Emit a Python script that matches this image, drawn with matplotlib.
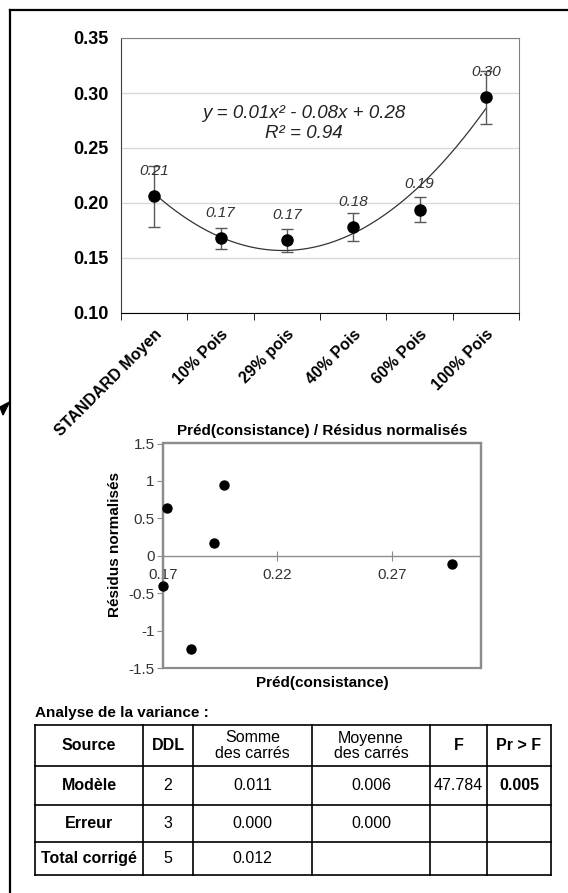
import numpy as np
import matplotlib
matplotlib.use('Agg')
import matplotlib.pyplot as plt
from matplotlib.patches import Rectangle, Polygon

plt.rcParams['font.family'] = ['Liberation Sans', 'DejaVu Sans']

# --- top chart: consistance par formulation
categories = ['STANDARD Moyen', '10% Pois', '29% pois', '40% Pois', '60% Pois', '100% Pois']
consistance = [0.206, 0.168, 0.166, 0.178, 0.194, 0.296]
erreur = [0.028, 0.0095, 0.0105, 0.013, 0.011, 0.024]
equation = 'y = 0.01x² - 0.08x + 0.28'
r2_text = 'R² = 0.94'

# --- residual chart
pred = [0.1718, 0.1966, 0.1921, 0.1700, 0.1824, 0.2962]
residus = [0.64, 0.94, 0.17, -0.40, -1.24, -0.115]

# --- analyse de la variance
anova_cols = ['Source', 'DDL', 'Somme\ndes carrés', 'Moyenne\ndes carrés', 'F', 'Pr > F']
anova_rows = [
    ['Modèle', '2', '0.011', '0.006', '47.784', '0.005'],
    ['Erreur', '3', '0.000', '0.000', '', ''],
    ['Total corrigé', '5', '0.012', '', '', ''],
]

W, H = 568, 893
fig = plt.figure(figsize=(W / 100, H / 100), dpi=100)


def px_axes(left, top, right, bottom):
    # figure axes from pixel box (origin top-left)
    return fig.add_axes([left / W, 1 - bottom / H, (right - left) / W, (bottom - top) / H])


# overlay in pixel coords for frame + table
ov = fig.add_axes([0, 0, 1, 1])
ov.set_xlim(0, W)
ov.set_ylim(H, 0)
ov.axis('off')
ov.plot([10, 10], [10, H], color='black', lw=1.6)
ov.plot([10, W], [10, 10], color='black', lw=1.6)
ov.add_patch(Polygon([(9.5, 402), (0, 407), (3, 415)], closed=True, color='black'))

# ---------------- top chart
ax = px_axes(121, 38, 519, 313)
x = np.arange(len(categories))
ax.set_xlim(-0.5, len(categories) - 0.5)
ax.set_ylim(0.10, 0.35)
ax.set_yticks([0.10, 0.15, 0.20, 0.25, 0.30, 0.35])
ax.set_yticklabels([f'{v:.2f}' for v in ax.get_yticks()], fontweight='bold', fontsize=13)
ax.tick_params(axis='y', length=0, pad=9)
ax.grid(axis='y', color='#d9d9d9', lw=1)
ax.set_axisbelow(True)
for s in ['top', 'right']:
    ax.spines[s].set_color('#808080')
ax.spines['left'].set_color('#404040')
ax.spines['bottom'].set_color('black')

ax.set_xticks(x)
ax.set_xticklabels(categories, rotation=45, ha='right', va='top',
                   rotation_mode='anchor', fontweight='bold', fontsize=11.5)
ax.tick_params(axis='x', which='major', length=0, pad=10)
ax.set_xticks(np.arange(-0.5, len(categories)), minor=True)
ax.tick_params(axis='x', which='minor', length=5, color='black')

# polynomial trendline (order 2)
xn = np.arange(1, len(categories) + 1)
coef = np.polyfit(xn, consistance, 2)
xs = np.linspace(1, len(categories), 200)
ax.plot(xs - 1, np.polyval(coef, xs), color='#333333', lw=0.9, zorder=2)

ax.errorbar(x, consistance, yerr=erreur, fmt='o', color='black', ms=8,
            ecolor='#595959', elinewidth=1, capsize=4.3, capthick=1, zorder=3)
for xi, v in zip(x, consistance):
    ax.annotate(f'{v:.2f}', (xi, v), xytext=(0, 18.5), textcoords='offset points',
                ha='center', va='center', fontsize=11, fontstyle='italic', color='#333333')

ax.text(0.46, 0.69, equation + '\n' + r2_text, transform=ax.transAxes, ha='center',
        va='center', fontsize=13.5, fontstyle='italic', color='#222222', linespacing=1.2)

# ---------------- residual chart
ax2 = px_axes(163, 443.5, 481, 668)
ax2.scatter(pred, residus, s=42, color='black', zorder=3, clip_on=False)
ax2.set_xlim(0.17, 0.309)
ax2.set_ylim(-1.5, 1.5)
ax2.set_xticks([0.17, 0.22, 0.27])
ax2.set_yticks([-1.5, -1, -0.5, 0, 0.5, 1, 1.5])
ax2.set_yticklabels(['-1.5', '-1', '-0.5', '0', '0.5', '1', '1.5'])
ax2.spines['bottom'].set_position(('data', 0))
ax2.spines['bottom'].set_color('#8c8c8c')
ax2.spines['bottom'].set_linewidth(1)
for s in ['top', 'right', 'left']:
    ax2.spines[s].set_color('#8c8c8c')
    ax2.spines[s].set_linewidth(1.6)
ax2.add_patch(Rectangle((0, 0), 1, 1, transform=ax2.transAxes, fill=False,
                        ec='#8c8c8c', lw=1.6, clip_on=False))
ax2.tick_params(axis='x', direction='inout', length=7, color='#8c8c8c', pad=5,
                labelsize=11, labelcolor='#333333')
ax2.tick_params(axis='y', direction='out', length=4, color='#8c8c8c', pad=2,
                labelsize=11, labelcolor='#333333')
ax2.set_title('Préd(consistance) / Résidus normalisés', fontweight='bold', fontsize=11, pad=6)
ax2.set_xlabel('Préd(consistance)', fontweight='bold', fontsize=11)
ax2.xaxis.set_label_coords(0.5, -0.067)
ax2.xaxis.label.set_va('center')
ax2.set_ylabel('Résidus normalisés', fontweight='bold', fontsize=11)
ax2.yaxis.set_label_coords(-0.15, 0.548)
ax2.yaxis.label.set_va('center')

# ---------------- ANOVA table
ov.text(35, 713, 'Analyse de la variance :', fontweight='bold', fontsize=11, va='center')
col_x = [35, 143, 193, 312, 430, 487, 551]
row_y = [725, 766, 805, 842, 875]
for cx in col_x:
    ov.plot([cx, cx], [row_y[0], row_y[-1]], color='black', lw=1.2)
for ry in row_y:
    ov.plot([col_x[0], col_x[-1]], [ry, ry], color='black', lw=1.2)

bold_head = {'Source', 'DDL', 'F', 'Pr > F'}
table = [anova_cols] + anova_rows
for r, row in enumerate(table):
    cy = (row_y[r] + row_y[r + 1]) / 2
    for c, val in enumerate(row):
        cx = (col_x[c] + col_x[c + 1]) / 2
        if r == 0:
            bold = val in bold_head
        else:
            bold = c == 0 or (r == 1 and c == 5)
        ov.text(cx, cy, val, ha='center', va='center', fontsize=11.5,
                fontweight='bold' if bold else 'normal', linespacing=1.0)

fig.savefig('out.png', dpi=100)
